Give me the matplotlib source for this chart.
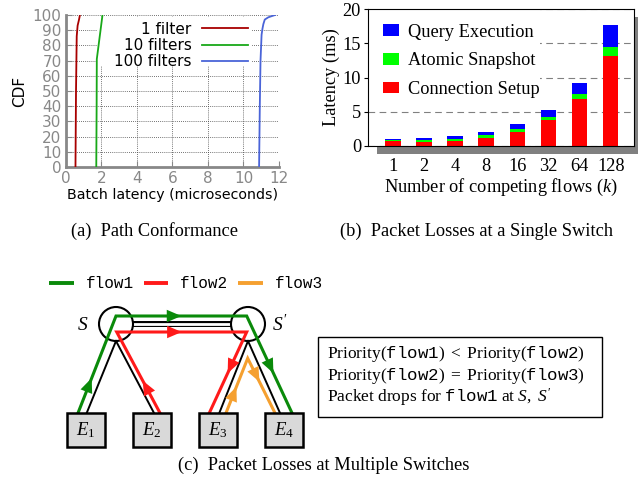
import numpy as np
import matplotlib
matplotlib.use('Agg')
import matplotlib.pyplot as plt
from matplotlib.patches import Rectangle, Circle

plt.rcParams['mathtext.fontset'] = 'custom'
plt.rcParams['mathtext.rm'] = 'Liberation Serif'
plt.rcParams['mathtext.it'] = 'Liberation Serif:italic'
plt.rcParams['mathtext.tt'] = 'Liberation Mono'

# ---- (a) path conformance CDF ----
cdf1_x = [0.55, 0.58, 0.62, 0.67, 0.75, 0.80]
cdf1_y = [0, 50, 86, 93, 97, 100]
cdf10_x = [1.72, 1.74, 1.75, 2.07]
cdf10_y = [0, 40, 71, 100]
cdf100_x = [10.88, 10.92, 10.96, 11.02, 11.07, 11.12, 11.20, 11.40, 11.60, 11.78]
cdf100_y = [0, 40, 70, 87, 91, 94, 97, 98.5, 99.3, 100]

# ---- (b) latency breakdown ----
flows = ['1', '2', '4', '8', '16', '32', '64', '128']
conn_setup = np.array([0.62, 0.58, 0.72, 1.15, 2.0, 3.8, 6.85, 13.15])
atomic_snap = np.array([0.15, 0.30, 0.25, 0.42, 0.45, 0.40, 0.73, 1.28])
query_exec = np.array([0.25, 0.30, 0.50, 0.43, 0.73, 1.03, 1.61, 3.27])

# ---- (c) topology diagram (figure pixel coords) ----
switches = {'S': (116, 324), "S'": (248, 324)}
hosts = {'1': 86, '2': 152, '3': 218, '4': 284}
host_top, host_bot, host_w = 413, 447, 38
links = [((116, 341), (86.7, 413)), ((116, 341), (154, 413)),
         ((248, 341), (219.3, 413)), ((248, 341), (280, 413))]
flow1_path = [(78, 413), (116, 316), (246.7, 316), (292, 413)]
flow2_path = [(160, 413), (116.7, 332), (246.7, 332), (209.3, 413)]
flow3_path = [(226, 413), (247.7, 358.3), (275, 413)]
green, red, orange = '#0a8a0a', '#ff1a1a', '#f5a030'

W, H = 644, 483
fig = plt.figure(figsize=(W / 100, H / 100), dpi=100)


def px_axes(l, t, r, b, **kw):
    return fig.add_axes([l / W, 1 - b / H, (r - l) / W, (b - t) / H], **kw)


ax_d = px_axes(0, 0, W, H, zorder=-1)
ax_d.set_xlim(0, W)
ax_d.set_ylim(H, 0)
ax_d.axis('off')

# (a)
gray = '#888888'
sans = 11
ax_a = px_axes(65.7, 15, 279, 167)
ax_a.plot(cdf1_x, cdf1_y, color='#a80000', lw=1.3, label='1 filter', zorder=3)
ax_a.plot(cdf10_x, cdf10_y, color='#18a818', lw=1.3, label='10 filters', zorder=3)
ax_a.plot(cdf100_x, cdf100_y, color='#4a64d8', lw=1.3, label='100 filters', zorder=3)
ax_a.set_xlim(0, 12)
ax_a.set_ylim(0, 100)
ax_a.set_xticks(range(0, 13, 2))
ax_a.set_yticks(range(0, 101, 10))
ax_a.set_axisbelow(True)
ax_a.grid(True, ls=(0, (1, 1.5)), color='#444444', lw=0.6)
for s in ['top', 'right']:
    ax_a.spines[s].set_visible(False)
for s in ['left', 'bottom']:
    ax_a.spines[s].set_color(gray)
    ax_a.spines[s].set_linewidth(2)
ax_a.tick_params(direction='in', colors=gray, labelsize=sans, length=4, pad=3)
for lab in ax_a.get_xticklabels() + ax_a.get_yticklabels():
    lab.set_family('DejaVu Sans')
ax_a.set_ylabel('CDF', fontsize=sans, family='DejaVu Sans', labelpad=4)
ax_a.set_xlabel('Batch latency (microseconds)', fontsize=10.2, family='DejaVu Sans', labelpad=1.5)
ax_a.add_patch(Rectangle((0.147, 0.664), 0.726, 0.323, transform=ax_a.transAxes,
                         facecolor='white', edgecolor='none', zorder=1))
ax_a.legend(loc='upper right', bbox_to_anchor=(0.855, 0.955), frameon=False, markerfirst=False,
            handlelength=3.0, labelspacing=0.08, handletextpad=0.7, borderpad=0,
            borderaxespad=0, prop={'family': 'DejaVu Sans', 'size': sans})

# (b)
serif = 13.2
ax_d.add_patch(Rectangle((377, 17), 638 - 377, 154 - 17, facecolor='#808080', edgecolor='none'))
ax_b = px_axes(368, 9.3, 634, 145.7)
x = np.arange(len(flows))
b1 = ax_b.bar(x, conn_setup, 0.5, color='#ff0000', label='Connection Setup', zorder=2)
b2 = ax_b.bar(x, atomic_snap, 0.5, bottom=conn_setup, color='#00ff00', label='Atomic Snapshot', zorder=2)
b3 = ax_b.bar(x, query_exec, 0.5, bottom=conn_setup + atomic_snap, color='#0000ff',
              label='Query Execution', zorder=2)
ax_b.set_xlim(-0.8, 7.75)
ax_b.set_ylim(0, 20)
ax_b.set_yticks([0, 5, 10, 15, 20])
ax_b.set_xticks(x)
ax_b.set_xticklabels(flows)
ax_b.set_axisbelow(True)
ax_b.yaxis.grid(True, ls=(0, (6, 4)), color='#808080', lw=0.8)
ax_b.tick_params(axis='y', direction='out', length=3, labelsize=serif, pad=2)
ax_b.tick_params(axis='x', length=0, labelsize=serif, pad=9)
for lab in ax_b.get_xticklabels() + ax_b.get_yticklabels():
    lab.set_family('Liberation Serif')
ax_b.set_ylabel('Latency (ms)', fontsize=serif, family='Liberation Serif', labelpad=2)
ax_b.set_xlabel('Number of competing flows ($k$)', fontsize=serif, family='Liberation Serif', labelpad=1)
ax_b.add_patch(Rectangle((0, 0.335), 0.647, 0.665, transform=ax_b.transAxes,
                         facecolor='white', edgecolor='none', zorder=1))
ax_b.legend([b3, b2, b1], ['Query Execution', 'Atomic Snapshot', 'Connection Setup'],
            loc='upper left', bbox_to_anchor=(0.056, 0.895), frameon=False,
            handlelength=0.9, handleheight=0.6, handletextpad=0.45, labelspacing=0.64,
            borderpad=0, borderaxespad=0, prop={'family': 'Liberation Serif', 'size': serif})

# captions
ax_d.text(155, 231, '(a)  Path Conformance', ha='center', va='center', fontsize=serif, family='Liberation Serif')
ax_d.text(477, 231, '(b)  Packet Losses at a Single Switch', ha='center', va='center', fontsize=serif,
          family='Liberation Serif')
ax_d.text(324, 465, '(c)  Packet Losses at Multiple Switches', ha='center', va='center', fontsize=serif,
          family='Liberation Serif')

# (c) flow legend
for (x0, x1), c, name in [((49, 74), green, 'flow1'), ((144, 168), red, 'flow2'), ((238, 263), orange, 'flow3')]:
    ax_d.plot([x0, x1], [283, 283], color=c, lw=2.8, solid_capstyle='butt')
    ax_d.text(x1 + 12, 283, name, ha='left', va='center', fontsize=11.5, family='Liberation Mono')

# links
(sx, sy), (tx, ty) = switches['S'], switches["S'"]
ax_d.plot([sx + 17, tx - 17], [sy, sy], color='black', lw=4.3, solid_capstyle='butt', zorder=1)
ax_d.plot([sx + 17, tx - 17], [sy, sy], color='white', lw=2.0, solid_capstyle='butt', zorder=1.1)
for p0, p1 in links:
    ax_d.plot([p0[0], p1[0]], [p0[1], p1[1]], color='black', lw=1.4, zorder=1)
for name, (cx, cy) in switches.items():
    ax_d.add_patch(Circle((cx, cy), 17, facecolor='none', edgecolor='black', lw=1.5, zorder=2))
ax_d.text(83, 324, '$S$', ha='center', va='center', fontsize=14)
ax_d.text(280, 324, "$S'$", ha='center', va='center', fontsize=14)

# flows
for path, c in [(flow1_path, green), (flow2_path, red), (flow3_path, orange)]:
    xs, ys = zip(*path)
    ax_d.plot(xs, ys, color=c, lw=2.2, zorder=3, solid_joinstyle='miter')


def arrow_on(p0, p1, t, color):
    p0, p1 = np.array(p0, float), np.array(p1, float)
    d = (p1 - p0) / np.hypot(*(p1 - p0))
    tip = p0 + t * (p1 - p0)
    ax_d.annotate('', xy=tip, xytext=tip - d * 12, zorder=3.5,
                  arrowprops=dict(arrowstyle='-|>,head_length=0.75,head_width=0.32', color=color,
                                  lw=0, shrinkA=0, shrinkB=0, mutation_scale=14))


arrow_on(flow1_path[0], flow1_path[1], 0.36, green)
arrow_on(flow1_path[1], flow1_path[2], 0.50, green)
arrow_on(flow1_path[2], flow1_path[3], 0.59, green)
arrow_on(flow2_path[0], flow2_path[1], 0.40, red)
arrow_on(flow2_path[1], flow2_path[2], 0.50, red)
arrow_on(flow2_path[2], flow2_path[3], 0.51, red)
arrow_on(flow3_path[0], flow3_path[1], 0.48, orange)
arrow_on(flow3_path[1], flow3_path[2], 0.43, orange)

# hosts
for name, cx in hosts.items():
    ax_d.add_patch(Rectangle((cx - host_w / 2, host_top), host_w, host_bot - host_top,
                             facecolor='#d9d9d9', edgecolor='black', lw=1.8, zorder=4))
    ax_d.text(cx, (host_top + host_bot) / 2, '$E_{%s}$' % name, ha='center', va='center',
              fontsize=13.5, zorder=5)

# priority box
ax_d.add_patch(Rectangle((318, 337), 602 - 318, 417 - 337, facecolor='white', edgecolor='black', lw=1.0))
box_lines = [r'$\mathrm{Priority}(\mathtt{flow1})\ <\ \mathrm{Priority}(\mathtt{flow2})$',
             r'$\mathrm{Priority}(\mathtt{flow2})\ =\ \mathrm{Priority}(\mathtt{flow3})$',
             r'$\mathrm{Packet\ drops\ for\ }\mathtt{flow1}\mathrm{\ at\ }S,\ S^{\prime}$']
for yy, s in zip([354, 376, 397], box_lines):
    ax_d.text(327, yy, s, ha='left', va='center', fontsize=12.5)

fig.savefig('out.png', dpi=100)
